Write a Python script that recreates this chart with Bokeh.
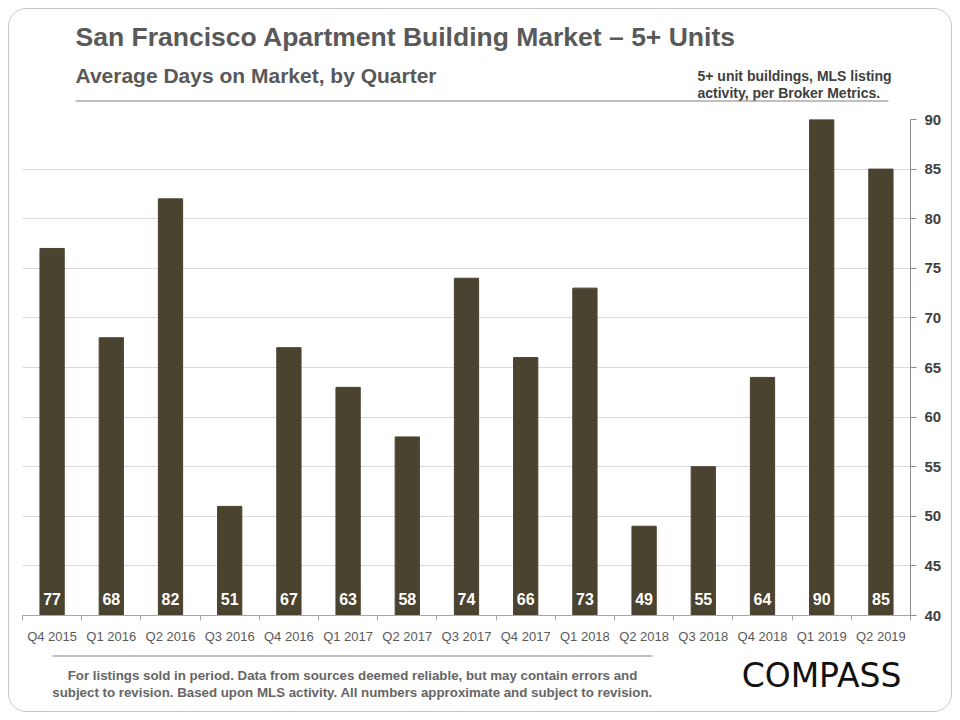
from bokeh.plotting import figure
from bokeh.layouts import column
from bokeh.models import Range1d, LinearAxis, FixedTicker, ColumnDataSource
from bokeh.core.properties import value
from bokeh.embed import file_html
from bokeh.resources import INLINE

# ---- data ----
quarters = ["Q4 2015", "Q1 2016", "Q2 2016", "Q3 2016", "Q4 2016", "Q1 2017", "Q2 2017",
            "Q3 2017", "Q4 2017", "Q1 2018", "Q2 2018", "Q3 2018", "Q4 2018", "Q1 2019", "Q2 2019"]
days = [77, 68, 82, 51, 67, 63, 58, 74, 66, 73, 49, 55, 64, 90, 85]
y_ticks = [40, 45, 50, 55, 60, 65, 70, 75, 80, 85, 90]

title_text = "San Francisco Apartment Building Market \u2013 5+ Units"
subtitle_text = "Average Days on Market, by Quarter"
note_lines = ["5+ unit buildings, MLS listing", "activity, per Broker Metrics."]
footer_lines = ["For listings sold in period. Data from sources deemed reliable, but may contain errors and",
                "subject to revision. Based upon MLS activity. All numbers approximate and subject to revision."]
logo_text = "COMPASS"

BAR = "#4a4330"
FONT = "Liberation Sans"
W = 942
H_HEAD, H_CHART, H_FOOT = 100, 539, 63
BORDER_L, BORDER_R = 13, 41          # frame margins shared by all panels
ORIGIN = 9                            # page offset of the panels (margin + css border)
FRAME_X = (ORIGIN + BORDER_L, ORIGIN + W - BORDER_R)   # page x of frame edges


def panel(top, h):
    # header / footer panel whose ranges are page pixel positions
    f = figure(width=W, height=h, output_backend="svg", toolbar_location=None,
               x_range=Range1d(*FRAME_X), y_range=Range1d(top + h, top),
               x_axis_location=None, y_axis_location=None,
               min_border_left=BORDER_L, min_border_right=BORDER_R,
               min_border_top=0, min_border_bottom=0)
    f.grid.visible = False
    f.outline_line_color = None
    f.background_fill_alpha = 0
    f.border_fill_alpha = 0
    return f


def txt(f, s, x, y, size, color, font=FONT, style="bold", align="left"):
    f.text(x=[x], y=[y], text=[s], text_font=value(font), text_font_size=size,
           text_font_style=style, text_color=color, text_align=align, text_baseline="middle")


# ---- header ----
head = panel(ORIGIN, H_HEAD)
txt(head, title_text, 75, 36, "26.5px", "#595959")
txt(head, subtitle_text, 75, 75, "21px", "#595959")
txt(head, note_lines[0], 697, 75, "14px", "#404040")
txt(head, note_lines[1], 697, 92, "14px", "#404040")
head.segment(x0=[75], y0=[100.5], x1=[888], y1=[100.5], line_color="#808080", line_width=1)

# ---- chart ----
idx = list(range(len(quarters)))
src = ColumnDataSource(dict(x=idx, top=days, label=[str(d) for d in days]))

p = figure(width=W, height=H_CHART, output_backend="svg", toolbar_location=None,
           x_range=Range1d(-0.5, len(quarters) - 0.5), y_range=Range1d(y_ticks[0], y_ticks[-1]),
           x_axis_location=None, y_axis_location=None,
           min_border_left=BORDER_L, min_border_right=BORDER_R, min_border_top=10, min_border_bottom=33)
p.outline_line_color = None
p.background_fill_alpha = 0
p.border_fill_alpha = 0

xax = LinearAxis(ticker=FixedTicker(ticks=idx, minor_ticks=[i - 0.5 for i in idx] + [len(idx) - 0.5]))
xax.major_label_overrides = {i: q for i, q in enumerate(quarters)}
xax.major_tick_out = 0
xax.major_tick_in = 0
xax.minor_tick_out = 5
xax.minor_tick_in = 0
xax.axis_line_color = "#a6a6a6"
xax.minor_tick_line_color = "#a6a6a6"
xax.major_label_text_font = FONT
xax.major_label_text_font_size = "13px"
xax.major_label_text_color = "#595959"
xax.major_label_standoff = 8
p.add_layout(xax, "below")

yax = LinearAxis(ticker=FixedTicker(ticks=y_ticks))
yax.major_tick_out = 6
yax.major_tick_in = 0
yax.minor_tick_out = 0
yax.minor_tick_in = 0
yax.axis_line_color = "#8c8c8c"
yax.major_tick_line_color = "#8c8c8c"
yax.major_label_text_font = FONT
yax.major_label_text_font_size = "15px"
yax.major_label_text_font_style = "bold"
yax.major_label_text_color = "#404040"
yax.major_label_standoff = 8
p.add_layout(yax, "right")

p.xgrid.visible = False
p.ygrid.ticker = FixedTicker(ticks=y_ticks)
p.ygrid.grid_line_color = "#d9d9d9"

p.vbar(x="x", top="top", bottom=y_ticks[0], width=0.41, source=src, fill_color=BAR, line_color=BAR)
p.text(x="x", y=y_ticks[0], text="label", source=src, y_offset=-16.5,
       text_align="center", text_baseline="middle", text_color="white",
       text_font=value(FONT), text_font_size="16px", text_font_style="bold")

# ---- footer ----
foot = panel(ORIGIN + H_HEAD + H_CHART, H_FOOT)
foot.segment(x0=[52], y0=[655.5], x1=[652], y1=[655.5], line_color="#808080", line_width=1)
txt(foot, footer_lines[0], 352, 675, "13.3px", "#666666", align="center")
txt(foot, footer_lines[1], 352, 692, "13.3px", "#666666", align="center")
txt(foot, logo_text, 821, 675, "33px", "#111111", font="DejaVu Sans", style="normal", align="center")

layout = column(head, p, foot, spacing=0,
                styles={"border": "1px solid #c8c8c8", "border-radius": "18px", "overflow": "hidden",
                        "margin": "8px"})

open("out.html", "w").write(file_html(layout, INLINE))
